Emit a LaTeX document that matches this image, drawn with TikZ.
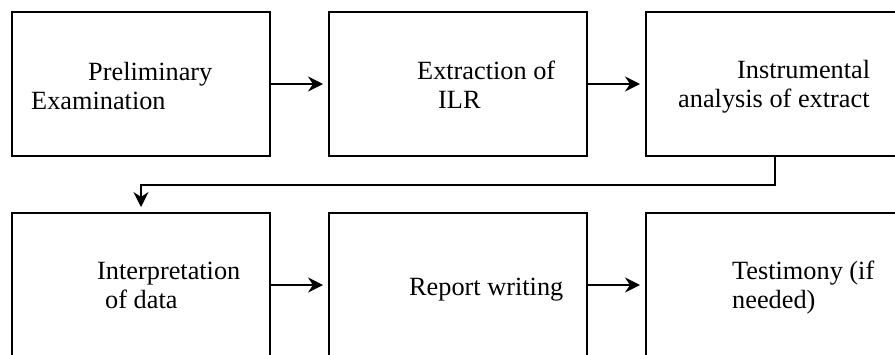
\documentclass[tikz,border=0pt]{standalone}
\usepackage{fontspec}
\setmainfont{Liberation Serif}
\usetikzlibrary{positioning, calc, arrows.meta}
\tikzstyle{stepbox} = [rectangle, minimum width=258pt, minimum height=144pt, draw=black, line width=2pt, outer sep=0pt]
\tikzstyle{boxtext} = [align=left, inner sep=0pt, anchor=base west, font=\fontsize{26.3}{28.5}\selectfont]
\tikzstyle{arrow} = [line width=1.3pt, -{Stealth[length=15pt, width=15pt, inset=5pt]}, shorten >=6pt]
\begin{document}
\begin{tikzpicture}[x=1pt, y=1pt, node distance=59pt]
\useasboundingbox (0,0) rectangle (895,-354);
\clip (0,0) rectangle (895,-354);

\node (box1) [stepbox] at (141,-84) {};
\node (box2) [stepbox, right=of box1] {};
\node (box3) [stepbox, right=of box2] {};
\node (box4) [stepbox, below=57pt of box1] {};
\node (box5) [stepbox, right=of box4] {};
\node (box6) [stepbox, right=of box5] {};

% base anchor sits on the last line
\node (txt1) [boxtext] at ($(box1.north west)+(19,-97)$) {\hspace{57pt}Preliminary\\Examination};
\node (txt2) [boxtext] at ($(box2.north west)+(88,-96)$) {Extraction of\\\hspace{21pt}ILR};
\node (txt3) [boxtext] at ($(box3.north west)+(32,-95)$) {\hspace{59pt}Instrumental\\analysis of extract};
\node (txt4) [boxtext] at ($(box4.north west)+(85,-95)$) {Interpretation\\\hspace{8pt}of data};
\node (txt5) [boxtext] at ($(box5.north west)+(80,-82)$) {Report writing};
\node (txt6) [boxtext] at ($(box6.north west)+(86,-95)$) {Testimony (if\\needed)};

\draw [arrow] (box1) -- (box2);
\draw [arrow] (box2) -- (box3);
\draw [arrow] (box4) -- (box5);
\draw [arrow] (box5) -- (box6);
\draw [arrow] (box3.south) -- ++(0,-29) -| (box4.north);
\end{tikzpicture}
\end{document}
